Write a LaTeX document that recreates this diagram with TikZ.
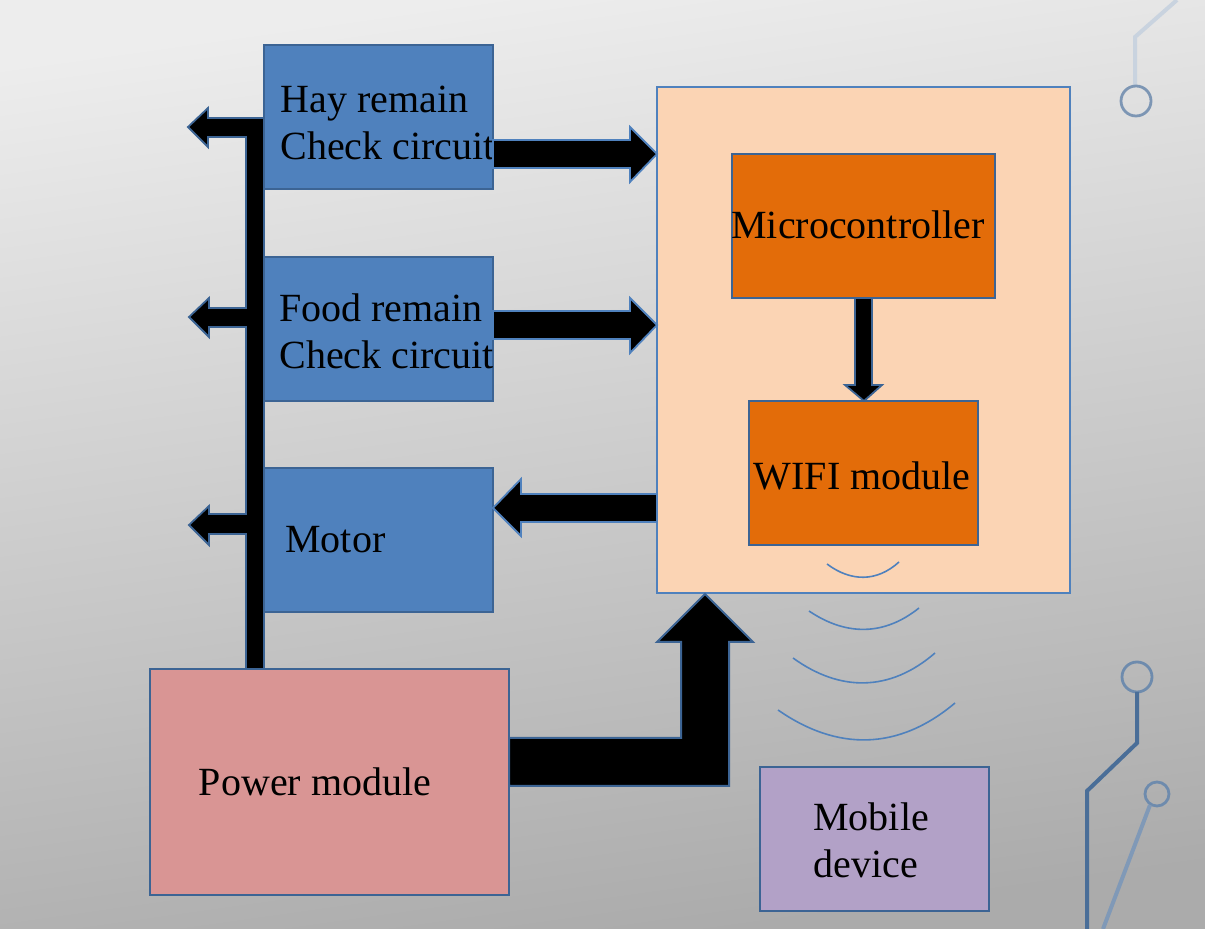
\documentclass[tikz,border=0pt]{standalone}
\usepackage{fontspec}
\setmainfont{Liberation Serif}
\definecolor{bgtop}{HTML}{EDEDED}
\definecolor{bgbot}{HTML}{ABABAB}
\definecolor{boxblue}{HTML}{4F81BD}
\definecolor{boxedge}{HTML}{3C6494}
\definecolor{pinkfill}{HTML}{D99594}
\definecolor{peachfill}{HTML}{FBD4B4}
\definecolor{orangefill}{HTML}{E36C09}
\definecolor{lilac}{HTML}{B2A1C7}
\definecolor{circdark}{HTML}{4A6E98}
\definecolor{circlight}{HTML}{C9D3DF}
\tikzset{
  px/.style={x=0.5pt,y=-0.5pt},
  blockbox/.style={draw=boxedge,line width=1pt,inner sep=0pt,anchor=center,
    minimum width=114.5pt,minimum height=72pt},
  lbl/.style={font=\fontsize{20}{23.5}\selectfont,inner sep=0pt,align=left},
  blockarrow/.style={fill=black,draw=boxblue,line width=0.9pt,line join=miter},
  powerarrow/.style={fill=black,draw=boxedge,line width=1pt,line join=miter},
  wavecurve/.style={draw=boxblue,line width=0.8pt},
  trace/.style={line width=2pt,line cap=butt}
}
\begin{document}
\begin{tikzpicture}[px]
\useasboundingbox (0,0) rectangle (1205,929);
\shade[top color=bgtop,bottom color=bgbot,shading angle=8] (0,0) rectangle (1205,929);

% circuit decoration
\draw[trace,draw=circlight] (1177,0) -- (1135,37) -- (1135,86);
\draw[line width=1.4pt,draw=circdark!60!circlight] (1136,101) circle[radius=7.5pt];
\draw[line width=1.4pt,draw=circdark!80!white] (1137,677) circle[radius=7.5pt];
\draw[trace,draw=circdark] (1137,692) -- (1137,743) -- (1087,791) -- (1087,929);
\draw[line width=1.4pt,draw=circdark!80!white] (1157,794) circle[radius=6pt];
\draw[trace,draw=circdark!70!white] (1150,805) -- (1103,929);

% boxes
\node[blockbox,fill=boxblue] (hay) at (378.5,117) {};
\node[blockbox,fill=boxblue] (food) at (378.5,329) {};
\node[blockbox,fill=boxblue] (motor) at (378.5,540) {};
\node[blockbox,fill=pinkfill,minimum width=179.5pt,minimum height=113pt] (power) at (329.5,782) {};
\node[blockbox,fill=peachfill,draw=boxblue,minimum width=206.5pt,minimum height=253pt] (mcu) at (863.5,340) {};
\node[blockbox,fill=orangefill,minimum width=131.5pt] (micro) at (863.5,226) {};
\node[blockbox,fill=orangefill] (wifi) at (863.5,473) {};
\node[blockbox,fill=lilac] (mobile) at (874.5,839) {};

% labels
\node[lbl,anchor=west] (hayt) at (280,123) {Hay remain\\Check circuit};
\node[lbl,anchor=west] (foodt) at (279,331) {Food remain\\Check circuit};
\node[lbl,anchor=base west] (motort) at (285,553) {Motor};
\node[lbl,anchor=base] (powert) at (315,796) {Power module};
\node[lbl,anchor=base] (microt) at (858,239) {Microcontroller};
\node[lbl,anchor=base] (wifit) at (862,490) {WIFI module};
\node[lbl,anchor=west] (mobilet) at (813,840) {Mobile\\device};

% power bus with three outputs
\draw[blockarrow,draw=boxedge] (264,669) -- (264,118) -- (208,118) -- (208,108) -- (188,127) -- (208,147) -- (208,137) -- (246,137)
  -- (246,308) -- (209,308) -- (209,298) -- (189,317) -- (209,337) -- (209,327) -- (246,327)
  -- (246,514) -- (209,514) -- (209,506) -- (189,525) -- (209,545) -- (209,534) -- (246,534)
  -- (246,669) -- cycle;

% block arrows
\draw[blockarrow] (493,140) -- (630,140) -- (630,127) -- (657,154) -- (630,182) -- (630,168) -- (493,168) -- cycle;
\draw[blockarrow] (493,311) -- (630,311) -- (630,298) -- (657,325) -- (630,353) -- (630,339) -- (493,339) -- cycle;
\draw[blockarrow] (657,494) -- (521,494) -- (521,479) -- (493,508) -- (521,536) -- (521,522) -- (657,522) -- cycle;
\draw[blockarrow,draw=boxedge] (855,298) -- (855,385) -- (845,385) -- (864,401) -- (882,385) -- (872,385) -- (872,298) -- cycle;
\draw[powerarrow] (509,738) -- (681,738) -- (681,642) -- (657,642) -- (705,594) -- (753,642) -- (729,642) -- (729,786) -- (509,786) -- cycle;

% wireless waves
\draw[wavecurve] (827,564) .. controls (851,582) and (877,582) .. (899,562);
\draw[wavecurve] (809,611) .. controls (846,636) and (884,636) .. (919,608);
\draw[wavecurve] (793,658) .. controls (840,692) and (890,692) .. (935,653);
\draw[wavecurve] (778,710) .. controls (837,751) and (898,751) .. (955,703);
\end{tikzpicture}
\end{document}
